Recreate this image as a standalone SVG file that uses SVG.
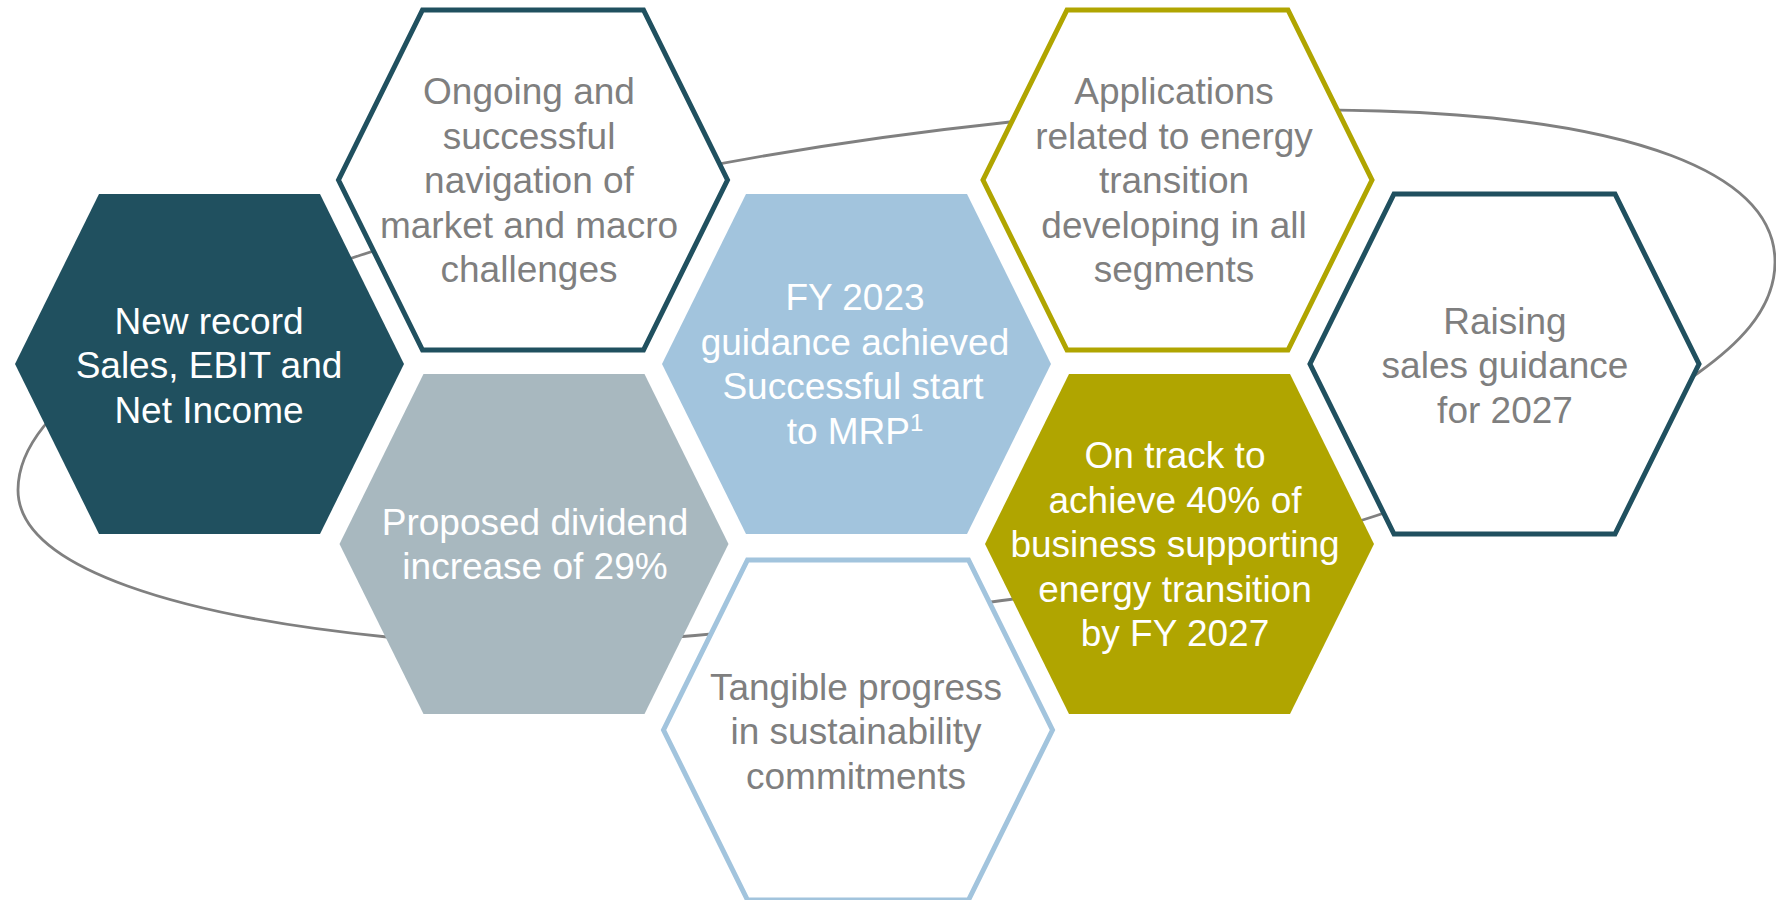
<svg xmlns="http://www.w3.org/2000/svg" xmlns:xlink="http://www.w3.org/1999/xlink" width="1776" height="900" viewBox="0 0 1776 900">
  <style>
    .loop { fill: none; stroke: #808080; stroke-width: 2.8; }
    .teal-fill { fill: #20505F; }
    .grey-fill { fill: #A8B8BF; }
    .blue-fill { fill: #A2C4DD; }
    .olive-fill { fill: #B0A500; }
    .teal-line { fill: #FFFFFF; stroke: #20505F; stroke-width: 5; stroke-linejoin: miter; }
    .olive-line { fill: #FFFFFF; stroke: #B0A500; stroke-width: 5; stroke-linejoin: miter; }
    .blue-line { fill: #FFFFFF; stroke: #A2C4DD; stroke-width: 5; stroke-linejoin: miter; }
    text { font-family: "Liberation Sans", Arial, sans-serif; font-size: 37px; text-anchor: middle; }
    .on-fill { fill: #FFFFFF; }
    .on-line { fill: #7F7F7F; }
  </style>
  <defs>
    <!-- flat-topped hexagon centred on the origin -->
    <polygon id="hex" points="-110.5,-170 110.5,-170 194.5,0 110.5,170 -110.5,170 -194.5,0"/>
  </defs>

  <!-- background loop running behind the hexagons -->
  <g id="connectors">
    <path class="loop" d="M18,490 C18,400 181,314 361,255 C577,184 794,145 1010,122 C1133,109 1257,107.3 1380,111 C1630,118.5 1775,172 1775,262 C1775,312 1733,348 1698,373 C1589,450.4 1481,481 1372,517 C1249,557.6 1125,583.3 1002,600.5 C900,615 797,626 695,635.5 C592,645 490,647 387,637 C187,617 18,570 18,490 Z"/>
  </g>

  <g id="record">
    <use xlink:href="#hex" href="#hex" class="teal-fill" transform="translate(209.5,364)"/>
    <text class="on-fill" x="209" y="333.5">New record</text>
    <text class="on-fill" x="209" y="378">Sales, EBIT and</text>
    <text class="on-fill" x="209" y="422.5">Net Income</text>
  </g>

  <g id="navigation">
    <use xlink:href="#hex" href="#hex" class="teal-line" transform="translate(533,180)"/>
    <text class="on-line" x="529" y="104">Ongoing and</text>
    <text class="on-line" x="529" y="148.5">successful</text>
    <text class="on-line" x="529" y="193">navigation of</text>
    <text class="on-line" x="529" y="237.5">market and macro</text>
    <text class="on-line" x="529" y="282">challenges</text>
  </g>

  <g id="dividend">
    <use xlink:href="#hex" href="#hex" class="grey-fill" transform="translate(534,544)"/>
    <text class="on-fill" x="535" y="534.75">Proposed dividend</text>
    <text class="on-fill" x="535" y="579.25">increase of 29%</text>
  </g>

  <g id="guidance">
    <use xlink:href="#hex" href="#hex" class="blue-fill" transform="translate(856.5,364)"/>
    <text class="on-fill" x="855" y="310.25">FY 2023</text>
    <text class="on-fill" x="855" y="354.75">guidance achieved</text>
    <text class="on-fill" x="853" y="399.25">Successful start</text>
    <text class="on-fill" x="855" y="443.75">to MRP<tspan font-size="24" dy="-13">1</tspan></text>
  </g>

  <g id="applications">
    <use xlink:href="#hex" href="#hex" class="olive-line" transform="translate(1177.5,180)"/>
    <text class="on-line" x="1174" y="104">Applications</text>
    <text class="on-line" x="1174" y="148.5">related to energy</text>
    <text class="on-line" x="1174" y="193">transition</text>
    <text class="on-line" x="1174" y="237.5">developing in all</text>
    <text class="on-line" x="1174" y="282">segments</text>
  </g>

  <g id="sales-guidance">
    <use xlink:href="#hex" href="#hex" class="teal-line" transform="translate(1504.5,364)"/>
    <text class="on-line" x="1505" y="333.5">Raising</text>
    <text class="on-line" x="1505" y="378">sales guidance</text>
    <text class="on-line" x="1505" y="422.5">for 2027</text>
  </g>

  <g id="energy-transition">
    <use xlink:href="#hex" href="#hex" class="olive-fill" transform="translate(1179.5,544)"/>
    <text class="on-fill" x="1175" y="468">On track to</text>
    <text class="on-fill" x="1175" y="512.5">achieve 40% of</text>
    <text class="on-fill" x="1175" y="557">business supporting</text>
    <text class="on-fill" x="1175" y="601.5">energy transition</text>
    <text class="on-fill" x="1175" y="646">by FY 2027</text>
  </g>

  <g id="sustainability">
    <use xlink:href="#hex" href="#hex" class="blue-line" transform="translate(858,730)"/>
    <text class="on-line" x="856" y="699.5">Tangible progress</text>
    <text class="on-line" x="856" y="744">in sustainability</text>
    <text class="on-line" x="856" y="788.5">commitments</text>
  </g>
</svg>
